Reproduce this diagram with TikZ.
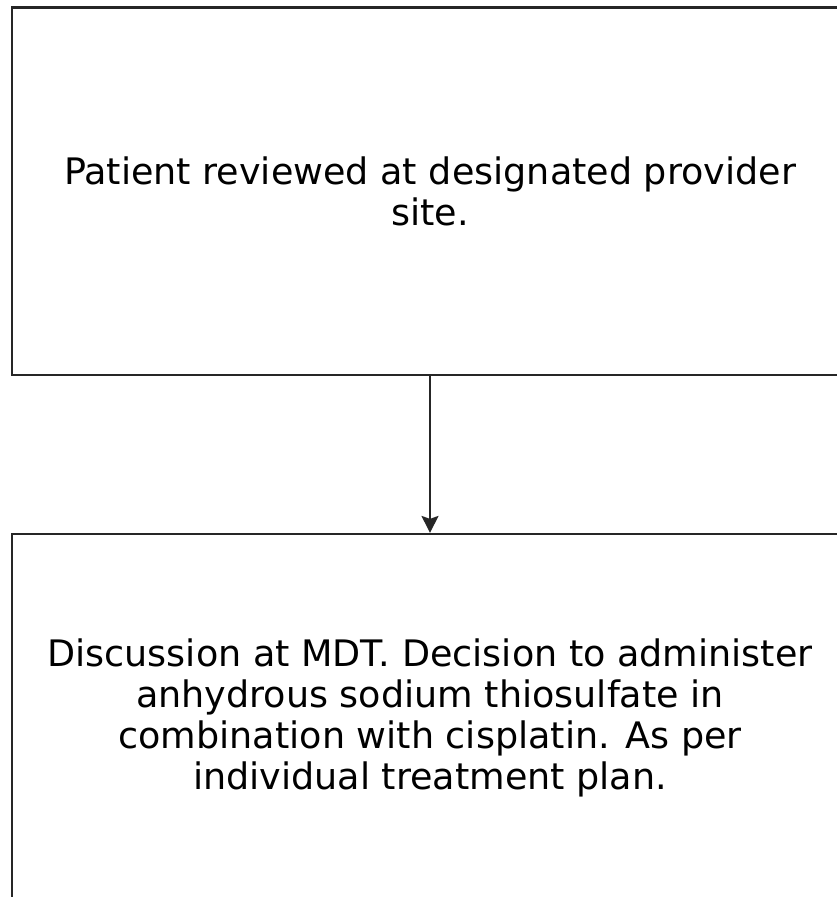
\documentclass[tikz,border=0pt]{standalone}
\usepackage{fontspec}
\setmainfont{DejaVu Sans}
\usetikzlibrary{arrows.meta}

\begin{document}
\begin{tikzpicture}[x=1pt, y=-1pt,
  stepbox/.style={draw=black!85, line width=2.2pt, minimum width=836pt, minimum height=367.5pt,
    align=center, inner sep=0pt, font=\fontsize{36.5}{41}\selectfont},
  flow/.style={-{Stealth[length=17pt, width=17pt, inset=3pt]}, draw=black!85, line width=1.8pt}]
\useasboundingbox (0,0) rectangle (837,897);
\node[stepbox] (review) at (430, 191.25){Patient reviewed at designated provider\\site.};
\node[stepbox] (mdt) at (430, 717.75){Discussion at MDT. Decision to administer\\anhydrous sodium thiosulfate in\\combination with cisplatin. As per\\individual treatment plan.};
\draw[flow] (review) -- (mdt);
\end{tikzpicture}
\end{document}
